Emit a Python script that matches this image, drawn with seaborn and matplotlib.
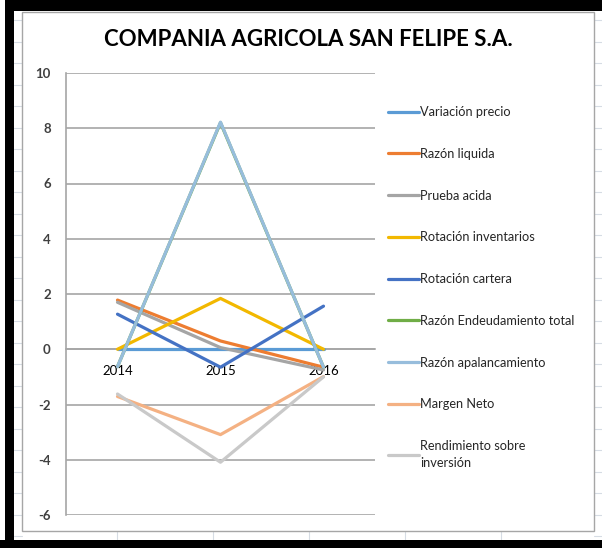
import numpy as np
import pandas as pd
import matplotlib
matplotlib.use("Agg")
import matplotlib.pyplot as plt
import seaborn as sns
from matplotlib.patches import Rectangle
from matplotlib.lines import Line2D

sns.set_style("white")
plt.rcParams['font.family'] = ['Lato', 'DejaVu Sans']
plt.rcParams['axes.unicode_minus'] = False

# datos
anios = ['2014', '2015', '2016']
variacion_precio = [0.0, 0.0, 0.0]
razon_liquida = [1.78, 0.30, -0.65]
prueba_acida = [1.70, 0.06, -0.75]
rotacion_inventarios = [0.0, 1.84, 0.0]
rotacion_cartera = [1.27, -0.65, 1.56]
razon_endeudamiento = [-0.63, 8.20, -0.65]
razon_apalancamiento = [-0.63, 8.22, -0.65]
margen_neto = [-1.71, -3.09, -0.99]
rendimiento_inversion = [-1.62, -4.09, -1.00]

series = {
    'Variación precio': variacion_precio,
    'Razón liquida': razon_liquida,
    'Prueba acida': prueba_acida,
    'Rotación inventarios': rotacion_inventarios,
    'Rotación cartera': rotacion_cartera,
    'Razón Endeudamiento total': razon_endeudamiento,
    'Razón apalancamiento': razon_apalancamiento,
    'Margen Neto': margen_neto,
    'Rendimiento sobre inversión': rendimiento_inversion,
}
colores = ['#5B9BD5', '#ED7D31', '#A5A5A5', '#F2B800', '#4472C4',
           '#70AD47', '#97BDDC', '#F4B183', '#C9C9C9']

filas = []
for nombre, valores in series.items():
    for i, v in enumerate(valores):
        filas.append({'serie': nombre, 'x': i, 'valor': v})
df = pd.DataFrame(filas)

W, H = 602, 548
fig = plt.figure(figsize=(W / 100, H / 100), dpi=100)

# marco de la captura (bordes negros y celdas de la hoja)
def px_rect(x0, y0, x1, y1, **kw):
    fig.add_artist(Rectangle((x0 / W, 1 - y1 / H), (x1 - x0) / W, (y1 - y0) / H,
                             transform=fig.transFigure, zorder=-5, **kw))

celda = '#D6DCE4'
for y in np.arange(20, 540, 21.5):
    fig.add_artist(Line2D([14 / W, 22 / W], [1 - y / H] * 2, color=celda, lw=0.8, zorder=-6))
    fig.add_artist(Line2D([594 / W, 1], [1 - y / H] * 2, color=celda, lw=0.8, zorder=-6))
for x in [117, 213, 309, 405, 501]:
    fig.add_artist(Line2D([x / W] * 2, [1 - 540 / H, 1 - 531 / H], color=celda, lw=0.8, zorder=-6))
px_rect(22, 12, 594, 531, facecolor='white', edgecolor='#A6A6A6', lw=1)
px_rect(5, 0, 602, 11, facecolor='black', edgecolor='none')
px_rect(5, 0, 14, 548, facecolor='black', edgecolor='none')
px_rect(0, 540, 602, 548, facecolor='black', edgecolor='none')

ax = fig.add_axes([66 / W, 1 - 515 / H, 309 / W, 442 / H])
ax.set_facecolor('none')
ax.set_zorder(5)

sns.lineplot(data=df, x='x', y='valor', hue='serie', palette=colores,
             hue_order=list(series.keys()), sort=False, lw=2.3, ax=ax)

ax.set_xlim(-0.5, 2.5)
ax.set_ylim(-6, 10)
ax.set_yticks(range(-6, 11, 2))
ax.set_xticks(range(len(anios)))
ax.set_xticklabels(anios)
ax.yaxis.grid(True, color='#A6A6A6', lw=1.2)
ax.set_axisbelow(True)
ax.set_xlabel('')
ax.set_ylabel('')

for s in ['top', 'right']:
    ax.spines[s].set_visible(False)
ax.spines['left'].set_color('#A6A6A6')
ax.spines['left'].set_linewidth(1.2)
ax.spines['bottom'].set_position(('data', 0))
ax.spines['bottom'].set_color('#A6A6A6')
ax.spines['bottom'].set_linewidth(1.2)
ax.spines['bottom'].set_zorder(0)
ax.tick_params(axis='y', length=0, pad=11, labelsize=9.5, labelcolor='#404040')
ax.tick_params(axis='x', length=0, pad=11, labelsize=9.5, labelcolor='black')
for t in ax.get_yticklabels():
    t.set_fontweight('bold')

handles, labels = ax.get_legend_handles_labels()
labels = ['Rendimiento sobre\ninversión' if l == 'Rendimiento sobre inversión' else l
          for l in labels]
leg = ax.legend(handles, labels, loc='upper left', bbox_to_anchor=(388 / W, 1 - 106 / H),
                bbox_transform=fig.transFigure, frameon=False, fontsize=9.2,
                handlelength=2.4, handletextpad=0.1, labelspacing=2.33,
                borderpad=0, borderaxespad=0)
for t in leg.get_texts():
    t.set_color('#262626')
    t.set_linespacing(1.5)

fig.text(308 / W, 1 - 40 / H, 'COMPANIA AGRICOLA SAN FELIPE S.A.', ha='center', va='center',
         fontsize=16, fontweight='bold', color='black')

fig.savefig('out.png', dpi=100)
